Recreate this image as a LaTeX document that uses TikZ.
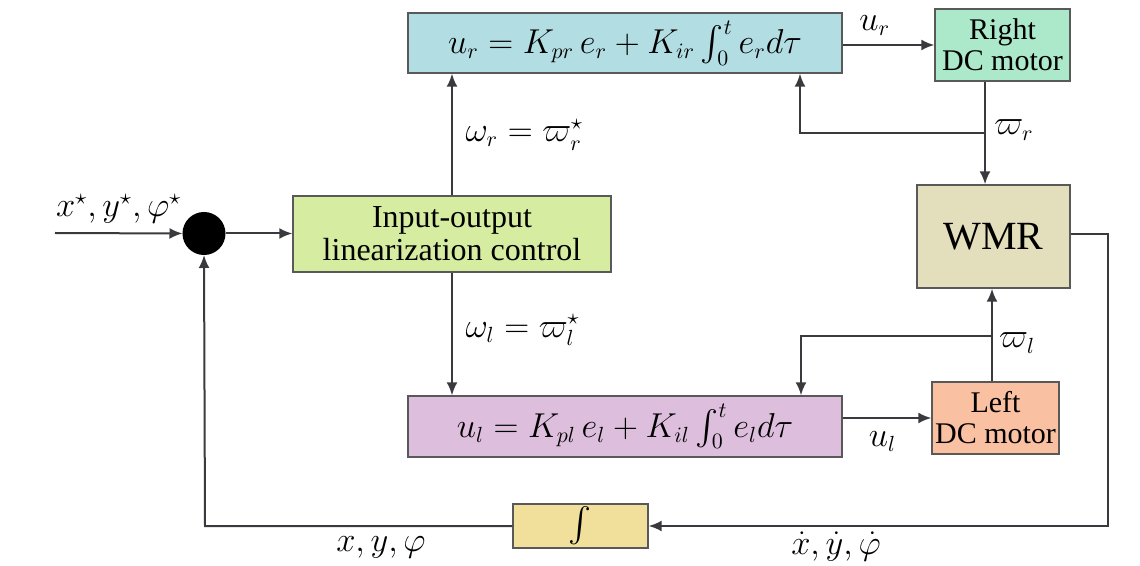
\documentclass[tikz,border=0pt]{standalone}
\usepackage{exscale}
\usepackage{fontspec}
\setmainfont{Liberation Serif}
\usetikzlibrary{arrows.meta}
\definecolor{piblue}{RGB}{178,221,227}
\definecolor{motgreen}{RGB}{172,232,202}
\definecolor{wmrbeige}{RGB}{227,223,188}
\definecolor{iogreen}{RGB}{214,236,160}
\definecolor{pililac}{RGB}{221,190,221}
\definecolor{motpeach}{RGB}{250,192,162}
\definecolor{intyellow}{RGB}{240,224,156}
\definecolor{wire}{RGB}{58,58,62}

\begin{document}
\begin{tikzpicture}[x=.5pt,y=-.5pt,>={Latex[length=6.5pt,width=5.5pt]},line width=1pt,
 blk/.style={draw=black!65,line width=.7pt,inner sep=0pt,align=center},
 lbl/.style={font=\fontsize{16}{19}\selectfont}]
 \useasboundingbox (0,0) rectangle (1140,566);
 % blocks
 \node[blk,lbl,fill=piblue,minimum width=217pt,minimum height=30pt] (pir) at (625,43)
  {$u_r = K_{pr}\,e_r + K_{ir}\int_0^t e_r d\tau$};
 \node[blk,fill=motgreen,minimum width=67.5pt,minimum height=36pt,
  font=\fontsize{15}{15.5}\selectfont] (rdc) at (1002.5,45) {Right\\DC motor};
 \node[blk,fill=wmrbeige,minimum width=76.5pt,minimum height=51.5pt,
  font=\fontsize{20}{22}\selectfont] (wmr) at (993.5,236.5) {WMR};
 \node[blk,fill=iogreen,minimum width=159pt,minimum height=38pt,
  font=\fontsize{16}{16.5}\selectfont] (io) at (452,234) {Input-output\\linearization control};
 \node[blk,lbl,fill=pililac,minimum width=217pt,minimum height=30.5pt] (pil) at (625,426.5)
  {$u_l = K_{pl}\,e_l + K_{il}\int_0^t e_l d\tau$};
 \node[blk,fill=motpeach,minimum width=63.5pt,minimum height=36pt,
  font=\fontsize{15}{15.5}\selectfont] (ldc) at (995.5,418) {Left\\DC motor};
 \node[blk,lbl,fill=intyellow,minimum width=67.5pt,minimum height=22pt] (intg) at (580.5,526) {$\int$};
 \node[circle,fill=black,draw=black,minimum size=20.5pt,inner sep=0pt] (sum) at (204,233.5) {};
 % helper points
 \coordinate (in) at (55,233);
 \coordinate (br) at (985,133);
 \coordinate (kr) at (800,133);
 \coordinate (bl) at (992,336);
 \coordinate (kl) at (801,336);
 \coordinate (out) at (1108,234);
 \coordinate (fb) at (205,526);
 % wires
 \begin{scope}[draw=wire]
 \draw[->] (in) -- (sum.west) node[lbl,pos=.5,above=1pt]{$x^\star, y^\star, \varphi^\star$};
 \draw[->] (sum.east) -- (sum.east -| io.west);
 \draw[->] (io.north) -- (io.north |- pir.south) node[lbl,pos=.5,right=3pt]{$\omega_r = \varpi_r^\star$};
 \draw[->] (io.south) -- (io.south |- pil.north) node[lbl,pos=.47,right=3pt]{$\omega_l = \varpi_l^\star$};
 \draw[->] (pir.east |- rdc.west) -- (rdc.west) node[lbl,pos=.35,above=1pt]{$u_r$};
 \draw[->] (rdc.south -| br) -- (wmr.north -| br);
 \draw[->] (br) -- (kr) -- (kr |- pir.south);
 \node[lbl] at (1014,130) {$\varpi_r$};
 \draw[->] (ldc.north -| bl) -- (wmr.south -| bl);
 \draw[->] (bl) -- (kl) -- (kl |- pil.north);
 \node[lbl] at (1017,343) {$\varpi_l$};
 \draw[->] (pil.east |- ldc.west) -- (ldc.west) node[lbl,pos=.45,below=3pt]{$u_l$};
 \draw[->] (wmr.east |- out) -- (out) -- (out |- intg.east) -- (intg.east);
 \draw[->] (intg.west) -- (fb) -- (sum.south);
 \node[lbl] at (381,547) {$x, y, \varphi$};
 \node[lbl] at (836,547) {$\dot x, \dot y, \dot\varphi$};
 \end{scope}
\end{tikzpicture}
\end{document}
